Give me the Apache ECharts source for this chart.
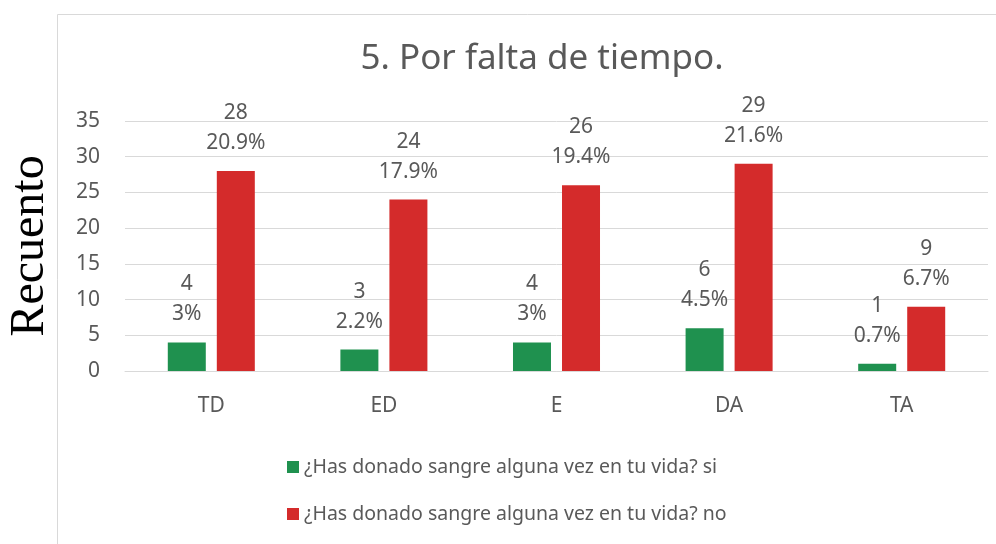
<!DOCTYPE html>
<html>
<head>
<meta charset="utf-8">
<script src="https://cdn.jsdelivr.net/npm/echarts@6/dist/echarts.min.js"></script>
<style>
  html, body { margin: 0; padding: 0; background: #fff; }
  #chart { width: 996px; height: 544px; }
</style>
</head>
<body>
<div id="chart"></div>
<script>
const categories = ['TD', 'ED', 'E', 'DA', 'TA']
const siValues = [4, 3, 4, 6, 1]
const noValues = [28, 24, 26, 29, 9]
const siPercents = ['3%', '2.2%', '3%', '4.5%', '0.7%']
const noPercents = ['20.9%', '17.9%', '19.4%', '21.6%', '6.7%']
const yTicks = [0, 5, 10, 15, 20, 25, 30, 35]

const GREEN = '#1f914f'
const RED = '#d42b2b'
const TEXT = '#595959'
const FONT = '"Noto Sans", sans-serif'

const chart = echarts.init(document.getElementById('chart'), undefined, { renderer: 'canvas' })

const labelFor = (percents) => ({
  show: true,
  position: 'top',
  distance: 13,
  color: TEXT,
  fontFamily: FONT,
  fontSize: 21,
  lineHeight: 30,
  align: 'center',
  formatter: (p) => p.value + '\n' + percents[p.dataIndex],
})

chart.setOption({
  animation: false,
  textStyle: { fontFamily: FONT },
  graphic: [
    {
      type: 'rect',
      shape: { x: 57.5, y: 14.5, width: 1000, height: 600 },
      style: { fill: 'none', stroke: '#d9d9d9', lineWidth: 1 },
      silent: true,
    },
  ],
  title: {
    text: '5. Por falta de tiempo.',
    left: 537,
    textAlign: 'center',
    top: 37,
    textStyle: { color: TEXT, fontFamily: FONT, fontSize: 35, fontWeight: 'normal' },
  },
  legend: {
    orient: 'vertical',
    left: 282,
    top: 452,
    itemWidth: 12,
    itemHeight: 12,
    itemGap: 27,
    icon: 'rect',
    data: [
      '¿Has donado sangre alguna vez en tu vida? si',
      '¿Has donado sangre alguna vez en tu vida? no',
    ],
    textStyle: { color: TEXT, fontFamily: FONT, fontSize: 19.5, lineHeight: 19 },
  },
  grid: { left: 125, right: 8, top: 121, bottom: 173, outerBoundsMode: 'none' },
  xAxis: {
    type: 'category',
    data: categories,
    axisLine: { lineStyle: { color: '#d9d9d9' } },
    axisTick: { show: false },
    axisLabel: { color: TEXT, fontFamily: FONT, fontSize: 21, margin: 25 },
  },
  yAxis: {
    type: 'value',
    min: yTicks[0],
    max: yTicks[yTicks.length - 1],
    interval: 5,
    name: 'Recuento',
    nameLocation: 'middle',
    nameRotate: 90,
    nameGap: 71,
    nameTextStyle: { color: '#000', fontFamily: '"Liberation Serif", "DejaVu Serif", serif', fontSize: 48 },
    axisLine: { show: false },
    axisTick: { show: false },
    axisLabel: { color: TEXT, fontFamily: FONT, fontSize: 21, margin: 25 },
    splitLine: { lineStyle: { color: '#d9d9d9', width: 1 } },
  },
  series: [
    {
      name: '¿Has donado sangre alguna vez en tu vida? si',
      type: 'bar',
      data: siValues,
      barWidth: 38,
      barGap: '29%',
      itemStyle: { color: GREEN },
      label: labelFor(siPercents),
    },
    {
      name: '¿Has donado sangre alguna vez en tu vida? no',
      type: 'bar',
      data: noValues,
      barWidth: 38,
      itemStyle: { color: RED },
      label: labelFor(noPercents),
    },
  ],
})

window.addEventListener('resize', () => chart.resize())
</script>
</body>
</html>
